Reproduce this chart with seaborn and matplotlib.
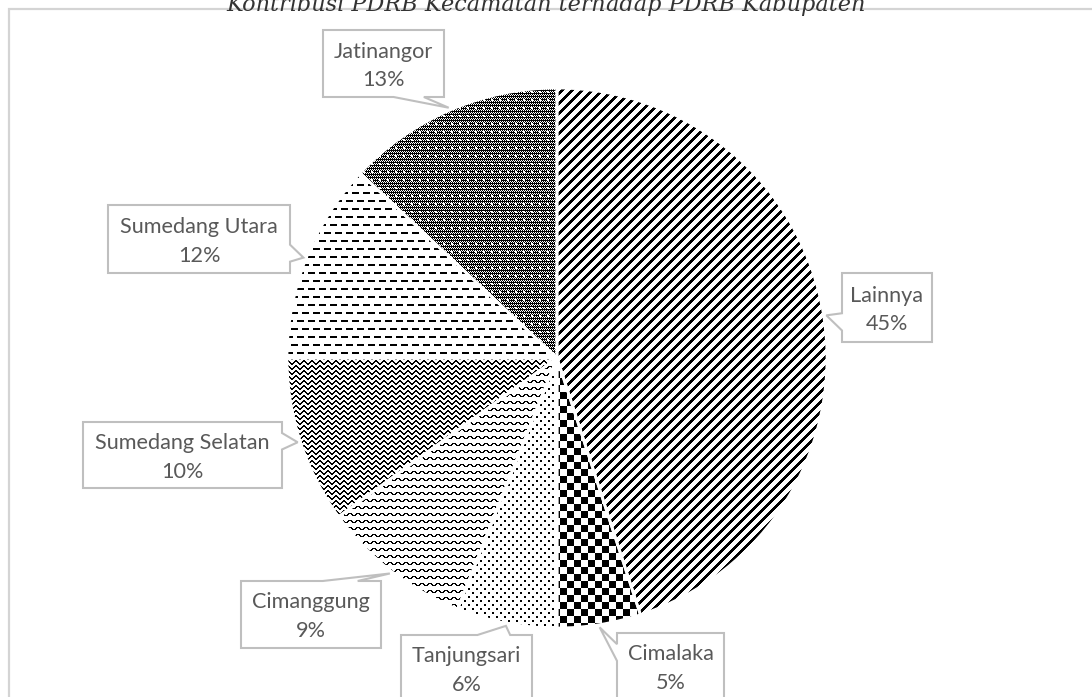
import numpy as np
import matplotlib
matplotlib.use('Agg')
import matplotlib.pyplot as plt
import seaborn as sns
from matplotlib.patches import Polygon, Rectangle

# ---------------- data ----------------
categories = ['Lainnya', 'Cimalaka', 'Tanjungsari', 'Cimanggung',
              'Sumedang Selatan', 'Sumedang Utara', 'Jatinangor']
shares = [45, 5, 6, 9, 10, 12, 13]
pct_labels = [f'{v}%' for v in shares]
title = 'Kontribusi PDRB Kecamatan terhadap PDRB Kabupaten'

# ---------------- layout (pixels, y from top) ----------------
W, H = 1092, 697
PIE_C = (557, 358)
PIE_R = 270
# callout boxes: (left, top, right, bottom)
boxes = {
    'Lainnya': (842, 273, 932, 342),
    'Cimalaka': (617, 633, 724, 700),
    'Tanjungsari': (401, 635, 532, 702),
    'Cimanggung': (241, 581, 381, 648),
    'Sumedang Selatan': (83, 422, 282, 488),
    'Sumedang Utara': (108, 205, 290, 273),
    'Jatinangor': (323, 30, 444, 97),
}

sns.set_theme(style='white')
plt.rcParams['font.family'] = ['Lato', 'DejaVu Sans']

fig = plt.figure(figsize=(W / 100, H / 100), dpi=100)
fig.patch.set_facecolor('white')
ax = fig.add_axes([0, 0, 1, 1])

wedges, _ = ax.pie(shares, startangle=90, counterclock=False,
                   center=(PIE_C[0], H - PIE_C[1]), radius=PIE_R,
                   wedgeprops=dict(facecolor='none', edgecolor='white', linewidth=2.0),
                   frame=False)
for w in wedges:
    w.set_zorder(3)

# ---------------- fill textures (pixel patterns) ----------------
yy, xx = np.mgrid[0:H, 0:W]

def tex_stripes():
    return ((xx + yy) % 10) < 4

def tex_checker():
    return ((xx // 7 + yy // 7) % 2) == 0

def tex_dots():
    off = 4 * ((yy // 4) % 2)
    return ((yy % 4) < 2) & (((xx + off) % 8) < 2)

def tex_waves():
    yo = np.array([0, 1, 1, 1, 0, -1, -1, -1])
    a = yo[xx % 8]
    b = yo[(xx + 1) % 8]
    r = yy % 7
    return (r == (3 + a)) | (r == (3 + b))

def tex_chevron():
    tri = np.array([0, 1, 2, 3, 3, 2, 1, 0])
    r = (yy - tri[xx % 8]) % 5
    return r < 2

def tex_dashes():
    off = 6 * ((yy // 8) % 2)
    return ((yy % 8) < 2) & (((xx + off) % 11) < 7)

def tex_dark():
    base = ((xx + yy) % 2 == 0) | (yy % 3 == 0)
    holes = ((xx % 8) >= 3) & ((xx % 8) <= 4) & ((yy % 8) >= 3) & ((yy % 8) <= 4)
    return base & ~holes

textures = [tex_stripes, tex_checker, tex_dots, tex_waves,
            tex_chevron, tex_dashes, tex_dark]

for w, tex in zip(wedges, textures):
    img = np.where(tex(), 0.0, 1.0)
    im = ax.imshow(img, cmap='gray', vmin=0, vmax=1, extent=(0, W, 0, H),
                   origin='upper', interpolation='nearest', zorder=2)
    im.set_clip_path(w)

ax.set_xlim(0, W)
ax.set_ylim(0, H)
ax.set_aspect('auto')
ax.axis('off')

# ---------------- chart frame ----------------
ax.add_patch(Rectangle((9, -30), W + 40, H - 9 + 30, fill=False,
                       edgecolor='#d4d4d4', linewidth=1.6, zorder=1))

# ---------------- callouts ----------------
def callout(box, tip):
    x0, y0, x1, y1 = box
    w, h = x1 - x0, y1 - y0
    cx, cy = (x0 + x1) / 2, (y0 + y1) / 2
    tx, ty = tip
    dx, dy = tx - cx, ty - cy
    if abs(dx) / w > abs(dy) / h:
        fr = (7 / 12, 10 / 12) if dy >= 0 else (2 / 12, 5 / 12)
        b1, b2 = y0 + h * fr[0], y0 + h * fr[1]
        if dx > 0:
            pts = [(x0, y0), (x1, y0), (x1, b1), (tx, ty), (x1, b2), (x1, y1), (x0, y1)]
        else:
            pts = [(x0, y0), (x1, y0), (x1, y1), (x0, y1), (x0, b2), (tx, ty), (x0, b1)]
    else:
        fr = (7 / 12, 10 / 12) if dx >= 0 else (2 / 12, 5 / 12)
        b1, b2 = x0 + w * fr[0], x0 + w * fr[1]
        if dy < 0:
            pts = [(x0, y0), (b1, y0), (tx, ty), (b2, y0), (x1, y0), (x1, y1), (x0, y1)]
        else:
            pts = [(x0, y0), (x1, y0), (x1, y1), (b2, y1), (tx, ty), (b1, y1), (x0, y1)]
    return [(px, H - py) for px, py in pts]

for w, name, pct in zip(wedges, categories, pct_labels):
    mid = np.deg2rad((w.theta1 + w.theta2) / 2)
    cxd, cyd = w.center
    tip_d = (cxd + PIE_R * 1.01 * np.cos(mid), cyd + PIE_R * 1.01 * np.sin(mid))
    tip = (tip_d[0], H - tip_d[1])
    box = boxes[name]
    ax.add_patch(Polygon(callout(box, tip), closed=True, facecolor='white',
                         edgecolor='#bfbfbf', linewidth=1.5, zorder=4))
    bx = (box[0] + box[2]) / 2
    by = (box[1] + box[3]) / 2
    ax.text(bx, H - (by - 6), name, ha='center', va='baseline',
            fontsize=15.6, color='#595959', zorder=5)
    ax.text(bx, H - (by + 22.5), pct, ha='center', va='baseline',
            fontsize=15.6, color='#595959', zorder=5)

# ---------------- title ----------------
fig.text(546 / W, 1 - 11 / H, title, ha='center', va='baseline',
         family='DejaVu Serif', style='italic', fontsize=16.1, color='#333333')

fig.savefig('out.png', dpi=100, facecolor='white')
